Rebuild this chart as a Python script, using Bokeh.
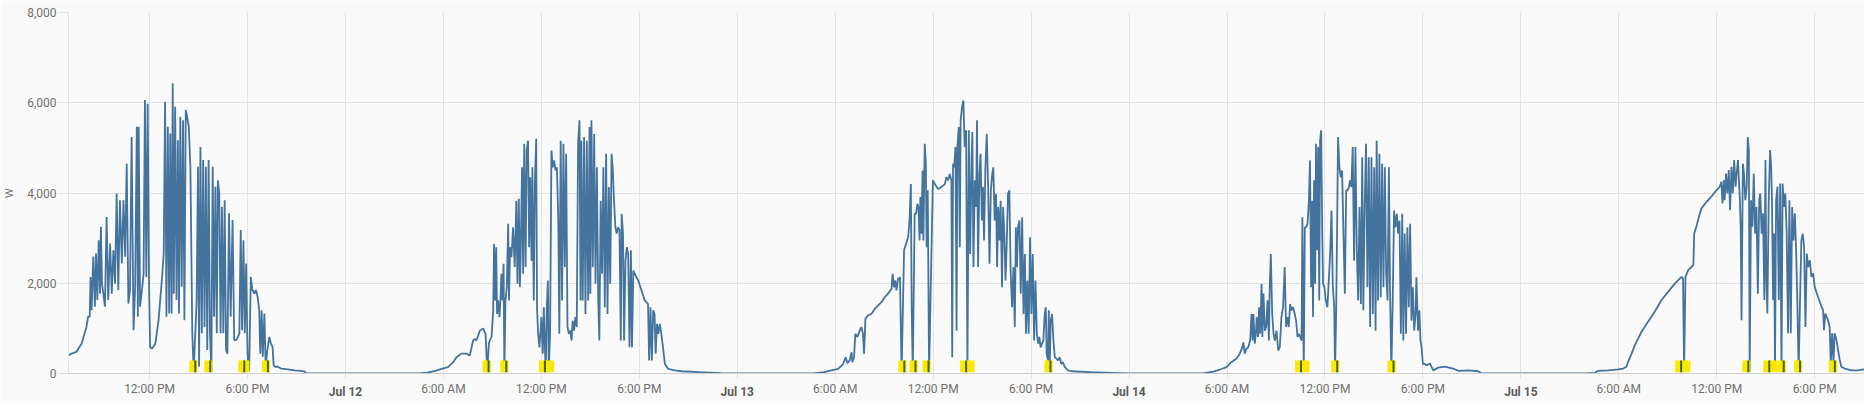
from datetime import datetime, timedelta
from bokeh.plotting import figure
from bokeh.models import Range1d, FixedTicker, CustomJSTickFormatter, NumeralTickFormatter, DatetimeAxis
from bokeh.embed import file_html
from bokeh.resources import INLINE

START = datetime(2024, 7, 11)
day_labels = ["Jul 12", "Jul 13", "Jul 14", "Jul 15"]
y_ticks = [0, 2000, 4000, 6000, 8000]
y_label = "W"

# minutes of day / watts, Jul 11
d1_t = [414,433,451,470,488,494,500,503,507,513,
        519,523,528,533,538,541,545,550,556,562,
        568,575,581,587,593,599,605,611,618,624,
        630,636,642,648,654,661,667,673,677,680,
        685,692,698,703,708,713,718,722,729,741,
        753,766,772,777,782,787,792,796,801,805,
        809,814,819,824,828,833,838,843,848,853,
        858,864,870,877,882,888,893,898,902,907,
        912,917,922,927,932,937,942,947,952,957,
        962,967,971,976,981,986,991,996,1001,1006,
        1012,1018,1025,1031,1038,1045,1050,1055,1060,1065,
        1070,1075,1080,1086,1092,1098,1105,1111,1117,1123,
        1127,1132,1136,1142,1147,1151,1160,1166,1172,1176,
        1181,1191,1203,1228,1253,1277,1290,1296]
d1_w = [380,440,480,660,1030,1260,1260,2140,1400,2590,
        1480,2660,1630,2950,1770,3250,1990,1770,1480,3470,
        1630,2880,1770,2730,1990,3990,1850,3840,2440,3840,
        2590,4650,1550,1850,5240,960,1920,5470,1260,5470,
        1480,1850,2220,6060,2140,5980,1990,590,550,660,
        1180,2140,2660,6020,1260,5470,1330,5320,1330,6430,
        1770,5910,1630,5170,1330,5690,1920,5610,1180,5840,
        5690,5470,4580,890,50,890,1630,4580,150,5020,
        890,4730,1030,4580,520,4730,890,50,4580,1260,
        4140,890,4280,3990,890,3690,890,3840,520,440,
        3550,1260,3400,740,740,810,890,3180,960,2950,
        890,2440,440,50,2140,1850,1770,1850,1700,1400,
        440,1400,370,1330,50,440,810,660,590,180,
        150,150,110,90,70,60,40,0]

# Jul 12
d2_t = [270,300,330,353,377,396,408,426,445,457,
        469,475,481,494,506,515,521,527,530,537,
        543,546,550,554,557,561,566,570,573,577,
        581,584,588,593,598,601,605,610,616,622,
        628,632,637,641,644,649,653,657,662,666,
        671,675,679,684,687,692,696,701,704,708,
        713,720,725,729,733,736,740,744,747,752,
        757,762,767,772,777,782,786,791,796,801,
        806,811,816,821,826,831,835,840,845,850,
        855,860,864,867,872,877,882,887,892,897,
        900,904,909,914,919,924,929,933,938,943,
        948,953,958,963,968,973,978,982,987,992,
        997,1002,1007,1012,1015,1020,1024,1029,1034,1039,
        1044,1049,1053,1058,1063,1076,1088,1100,1112,1116,
        1121,1126,1131,1136,1140,1145,1150,1155,1161,1167,
        1174,1186,1210,1235,1300,1380,1439]
d2_w = [0,20,60,100,140,250,360,440,440,400,
        730,770,730,950,1000,880,40,660,730,810,
        1400,2870,1620,2800,1320,1620,1250,1690,2210,1620,
        2430,40,1620,1910,3320,1620,2800,2580,3240,2360,
        3830,1990,3870,1910,2650,4570,2210,5090,2360,4940,
        5160,2800,4350,2500,4570,1620,4200,5200,1470,880,
        580,1250,440,1470,580,40,1470,2060,40,880,
        4940,4570,4720,4500,4570,3460,880,5160,1620,5090,
        2360,4870,1030,880,950,730,1170,950,1250,1030,
        5090,5610,1620,5160,1620,5240,1320,5160,1620,5460,
        1770,5610,2360,5310,1990,4570,1620,730,3830,2210,
        4570,1470,4870,1320,4130,1990,4870,4570,3830,3240,
        3100,3240,3170,730,3540,3100,730,2500,2800,2650,
        580,2730,580,2280,2210,2060,1840,1620,1540,290,
        1470,290,1400,1320,440,1100,880,1100,880,580,
        210,100,70,50,30,10,0]

# Jul 13
d3_t = [280,320,346,371,389,398,405,413,420,423,
        429,434,442,450,456,462,466,471,481,493,
        505,518,530,542,554,567,571,576,581,585,
        591,598,604,613,620,628,633,638,641,645,
        652,657,662,666,670,673,677,681,684,689,
        693,696,700,705,714,719,726,738,750,763,
        769,775,781,787,790,793,797,802,806,809,
        814,818,821,826,831,836,841,846,851,856,
        861,864,868,873,878,881,885,890,894,899,
        903,907,912,917,922,927,932,937,941,946,
        951,955,959,964,968,973,977,981,986,990,
        995,1000,1005,1010,1015,1020,1024,1028,1032,1037,
        1042,1047,1052,1057,1061,1066,1071,1076,1081,1086,
        1091,1096,1101,1106,1110,1115,1120,1125,1130,1134,
        1137,1142,1145,1148,1152,1157,1162,1167,1173,1179,
        1185,1191,1197,1204,1216,1228,1300,1400,1439]
d3_w = [0,30,70,100,210,360,230,290,470,250,
        360,880,810,950,1030,880,440,1210,1290,1320,
        1430,1510,1580,1690,1770,1880,2210,1910,2060,1840,
        2100,2130,40,2730,2870,3020,3390,4200,1470,40,
        3540,3540,3760,3690,2950,3910,3100,4500,2950,5090,
        4650,2800,4060,40,2800,4280,4200,4090,4130,4200,
        4350,4280,4420,4280,360,4650,4570,5020,950,5020,
        5460,2800,5610,5900,6050,5020,5390,40,5390,2650,
        4650,5350,2360,4280,3690,5610,2360,4420,4870,3390,
        4130,2950,4570,5310,4130,2430,4060,4420,4570,3390,
        3980,2360,3690,2950,3830,1910,3690,3170,2060,2800,
        3980,4060,2210,1470,2360,1030,3240,2360,3240,3390,
        1770,3460,1320,2650,880,2060,880,3020,1320,2650,
        730,2060,880,660,810,580,660,730,1320,1470,
        440,290,1400,40,1170,1320,730,360,330,290,
        360,210,250,140,70,50,30,10,0]

# Jul 14
d4_t = [270,310,340,358,376,395,407,416,420,425,
        431,438,445,450,454,457,462,466,469,474,
        478,482,487,490,494,499,504,509,514,517,
        521,526,531,536,542,548,554,560,566,572,
        577,582,587,592,597,603,609,614,619,624,
        629,634,637,642,646,651,656,661,665,669,
        673,676,680,684,687,691,695,699,702,706,
        710,713,718,723,729,734,739,744,749,754,
        757,761,765,768,773,778,783,788,793,798,
        803,808,812,817,822,827,832,837,842,847,
        852,857,861,866,871,876,881,886,891,896,
        901,906,910,915,920,925,930,935,940,945,
        950,955,959,964,969,974,979,984,989,994,
        999,1004,1008,1013,1018,1023,1028,1033,1038,1043,
        1048,1053,1056,1062,1067,1071,1075,1080,1085,1093,
        1106,1118,1136,1161,1191,1210,1247,1283,1296,1439]
d4_w = [0,40,100,140,250,330,440,580,690,440,
        550,580,730,1320,730,1320,660,880,1250,810,
        1470,880,1990,810,1770,950,1030,1620,730,1910,
        2650,1320,880,730,950,510,580,1250,1470,2360,
        1030,1250,1030,1540,1400,1470,1320,1170,810,880,
        810,730,3460,40,3240,3240,3320,3830,4720,1910,
        3830,1250,4280,1990,5090,2730,5020,1620,5160,5390,
        3100,1990,1910,1620,1470,2060,2650,3610,1910,1470,
        40,1320,3390,5240,4570,4350,4500,3100,1770,4060,
        4060,4130,4280,4130,5020,2500,5020,2730,1620,3690,
        1540,4790,1400,3690,5090,1910,4790,1030,4790,1320,
        4570,950,5160,1620,4870,1690,4650,1910,4570,2210,
        1620,4570,1910,40,1620,3610,3240,3540,3100,3390,
        880,3540,730,3100,880,3240,1470,3320,1170,1910,
        950,1320,2130,950,1400,730,580,210,220,180,
        220,70,130,150,110,60,70,50,0,0]

# Jul 15
d5_t = [240,272,284,321,358,376,388,394,407,419,
        443,468,492,517,541,566,590,596,600,605,
        615,627,634,637,645,658,664,682,700,719,
        731,737,741,746,749,754,759,764,769,774,
        779,784,789,793,798,805,808,811,816,820,
        825,830,834,838,841,846,851,856,861,866,
        871,876,880,885,890,895,899,902,906,911,
        916,920,923,927,931,934,938,943,948,953,
        958,962,967,972,977,982,987,992,997,1002,
        1007,1012,1016,1021,1026,1031,1036,1041,1046,1051,
        1056,1062,1068,1074,1080,1092,1105,1111,1114,1119,
        1129,1135,1139,1144,1149,1153,1160,1166,1172,1178,
        1190,1215,1239,1258,1270]
d5_w = [0,15,60,70,90,110,150,260,440,630,
        920,1150,1370,1630,1810,1990,2140,2110,40,2140,
        2290,2360,2400,3100,3250,3550,3660,3800,3920,4060,
        4140,4250,3770,4280,3840,4430,3990,4510,3620,4580,
        3990,4730,4140,4430,4730,3840,3250,1180,4650,4430,
        3840,4140,5240,4950,40,3840,3250,4430,3100,3690,
        1770,3840,3990,3100,3550,1630,4730,2220,1330,3840,
        4950,4580,3840,1630,3100,40,3840,4140,1630,4210,
        40,4210,3690,3990,3100,890,3840,890,3690,2950,
        3550,2660,1630,40,1630,2950,3100,2810,1030,2660,
        2360,2510,2140,2220,1920,1700,1480,1400,960,1330,
        1180,1030,220,890,220,890,740,520,300,150,
        110,70,70,90,80]

# dropout markers (minutes of day) per day
m1 = [881, 936, 1061, 1072, 1148]
m2 = [519, 584, 726, 752]
m3 = [607, 648, 696, 834, 857, 1144]
m4 = [625, 648, 758, 965]
m5 = [582, 608, 829, 906, 928, 959, 1019, 1147]

EPOCH = datetime(1970, 1, 1)
def ms(dt):
    return (dt - EPOCH).total_seconds() * 1000.0

series = [(d1_t, d1_w), (d2_t, d2_w), (d3_t, d3_w), (d4_t, d4_w), (d5_t, d5_w)]
xs, ys = [], []
for i, (tt, ww) in enumerate(series):
    for m, v in zip(tt, ww):
        xs.append(START + timedelta(days=i, minutes=m))
        ys.append(v)

markers = [m1, m2, m3, m4, m5]
mk_c, mk_l, mk_r, sp_x = [], [], [], []
MW = 15  # half width, minutes
for i, mm in enumerate(markers):
    prev = None
    for m in mm:
        c = START + timedelta(days=i, minutes=m)
        mk_c.append(c)
        mk_l.append(c - timedelta(minutes=MW))
        mk_r.append(c + timedelta(minutes=MW))
        if prev is None or m - prev > 2 * MW:
            sp_x.append(c + timedelta(minutes=MW // 2))
        prev = m

x0 = START + timedelta(minutes=422)
x1 = START + timedelta(days=4, minutes=1263)

FONT = "Roboto"
GRID = "#e2e2e2"
TXT = "#707070"

p = figure(x_axis_type="datetime",
           frame_width=1796, frame_height=361,
           x_range=Range1d(ms(x0), ms(x1)), y_range=Range1d(0, 8000),
           output_backend="svg", toolbar_location=None,
           background_fill_color="#fafafa", border_fill_color="#fafafa",
           min_border_left=67, min_border_right=1, min_border_top=12, min_border_bottom=26)
p.outline_line_color = None

p.line(xs, ys, line_color="#44739e", line_width=1.8)
p.quad(left=mk_l, right=mk_r, bottom=30, top=290, fill_color="#ffe800", line_color=None)
p.segment(x0=sp_x, y0=30, x1=sp_x, y1=290, line_color="#3f6800", line_width=2)

six_h = [ms(START + timedelta(hours=6 * k)) for k in range(0, 21)]
midnights = [ms(START + timedelta(days=k + 1)) for k in range(len(day_labels))]
p.xaxis.ticker = FixedTicker(ticks=six_h)
p.xgrid.ticker = FixedTicker(ticks=six_h)
p.xaxis.formatter = CustomJSTickFormatter(code="""
const d = new Date(tick);
const h = d.getUTCHours();
if (h === 0) { return ""; }
const hh = (h % 12 === 0) ? 12 : h % 12;
return hh + ":00 " + (h < 12 ? "AM" : "PM");
""")
p.yaxis.ticker = FixedTicker(ticks=y_ticks)
p.yaxis.formatter = NumeralTickFormatter(format="0,0")
p.xaxis.minor_tick_line_color = None
p.yaxis.minor_tick_line_color = None
p.xgrid.grid_line_color = GRID
p.ygrid.grid_line_color = GRID

p.xaxis.axis_line_color = "#cfcfcf"
p.xaxis.major_tick_line_color = GRID
p.xaxis.major_tick_in = 0
p.xaxis.major_tick_out = 5
p.xaxis.major_label_standoff = 3
p.yaxis.axis_line_color = GRID
p.yaxis.major_tick_line_color = GRID
p.yaxis.major_tick_in = 0
p.yaxis.major_tick_out = 10
p.yaxis.major_label_standoff = 2
for ax in (p.xaxis, p.yaxis):
    ax.major_label_text_font = FONT
    ax.major_label_text_font_size = "12px"
    ax.major_label_text_color = TXT
p.yaxis.axis_label = y_label
p.yaxis.axis_label_text_font = FONT
p.yaxis.axis_label_text_font_size = "11px"
p.yaxis.axis_label_text_font_style = "normal"
p.yaxis.axis_label_text_color = TXT
p.yaxis.axis_label_standoff = 8

# second axis carrying the bold day labels, pulled up onto the first axis' label row
day_axis = DatetimeAxis(ticker=FixedTicker(ticks=midnights),
                        formatter=CustomJSTickFormatter(args=dict(labels=day_labels, t0=midnights[0]), code="""
const i = Math.round((tick - t0) / 86400000);
return (i >= 0 && i < labels.length) ? labels[i] : "";
"""))
day_axis.axis_line_color = None
day_axis.major_tick_line_color = None
day_axis.minor_tick_line_color = None
day_axis.major_label_standoff = -20
day_axis.major_label_text_font = FONT
day_axis.major_label_text_font_size = "12px"
day_axis.major_label_text_font_style = "bold"
day_axis.major_label_text_color = "#5a5a5a"
p.add_layout(day_axis, "below")

open("out.html", "w").write(file_html(p, INLINE))
